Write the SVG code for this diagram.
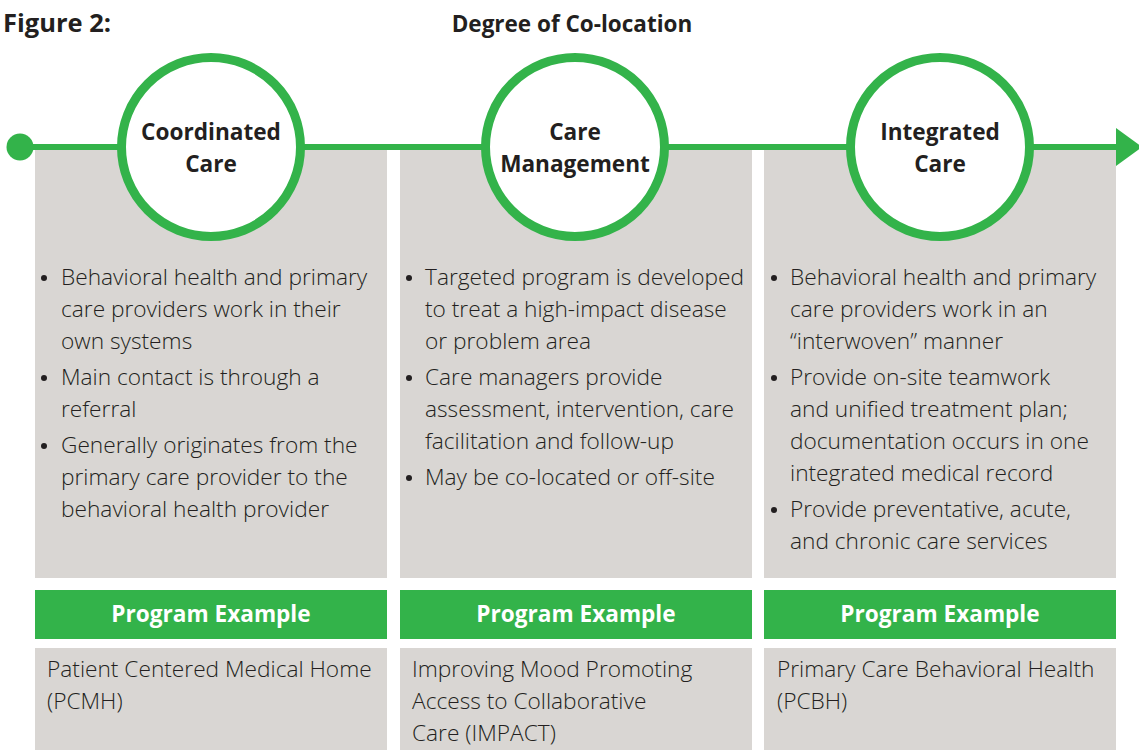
<svg xmlns="http://www.w3.org/2000/svg" width="1139" height="750" viewBox="0 0 1139 750">
<style>
.t{font-family:"Open Sans","Liberation Sans",sans-serif;fill:#231f20}
.h{font-weight:700}
.b{font-weight:300;font-size:22.7px}
.panel{fill:#d9d6d3}
.hdr{fill:#33b34a}
.ring{fill:#fff;stroke:#33b34a;stroke-width:9}
.ct{font-weight:700;font-size:22.6px;text-anchor:middle}
.pe{font-family:"Open Sans","Liberation Sans",sans-serif;font-weight:700;font-size:22.6px;fill:#fff;text-anchor:middle}
</style>
<rect width="1139" height="750" fill="#fff"/>
<text class="t h" x="3" y="32" font-size="25.5">Figure 2:</text>
<text class="t h" x="572" y="32" font-size="22.5" text-anchor="middle">Degree of Co-location</text>

<g id="panels">
<rect class="panel" x="35" y="150" width="352" height="428"/>
<rect class="panel" x="400" y="150" width="352" height="428"/>
<rect class="panel" x="764" y="150" width="352" height="428"/>
<rect class="hdr" x="35" y="590" width="352" height="49"/>
<rect class="hdr" x="400" y="590" width="352" height="49"/>
<rect class="hdr" x="764" y="590" width="352" height="49"/>
<rect class="panel" x="35" y="648" width="352" height="102"/>
<rect class="panel" x="400" y="648" width="352" height="102"/>
<rect class="panel" x="764" y="648" width="352" height="102"/>
</g>

<g id="connectors">
<line x1="20" y1="147" x2="1120" y2="147" stroke="#33b34a" stroke-width="6"/>
<circle cx="20" cy="147" r="13.5" fill="#33b34a"/>
<polygon points="1116,128 1142,147 1116,166" fill="#33b34a"/>
</g>

<g id="coordinated-care">
<circle class="ring" cx="211" cy="147" r="89.5"/>
<text class="t ct" x="211" y="140">Coordinated</text>
<text class="t ct" x="211" y="172">Care</text>
<g class="t b">
<text x="61" y="285">Behavioral health and primary</text>
<text x="61" y="317">care providers work in their</text>
<text x="61" y="349">own systems</text>
<text x="61" y="385">Main contact is through a</text>
<text x="61" y="417">referral</text>
<text x="61" y="453">Generally originates from the</text>
<text x="61" y="485">primary care provider to the</text>
<text x="61" y="517">behavioral health provider</text>
</g>
<g fill="#231f20"><circle cx="44" cy="278" r="3"/><circle cx="44" cy="378" r="3"/><circle cx="44" cy="446" r="3"/></g>
<text class="pe" x="211" y="622">Program Example</text>
<g class="t b">
<text x="47" y="677">Patient Centered Medical Home</text>
<text x="47" y="709">(PCMH)</text>
</g>
</g>

<g id="care-management">
<circle class="ring" cx="575" cy="147" r="89.5"/>
<text class="t ct" x="575" y="140">Care</text>
<text class="t ct" x="575" y="172">Management</text>
<g class="t b">
<text x="425" y="285">Targeted program is developed</text>
<text x="425" y="317">to treat a high-impact disease</text>
<text x="425" y="349">or problem area</text>
<text x="425" y="385">Care managers provide</text>
<text x="425" y="417">assessment, intervention, care</text>
<text x="425" y="449">facilitation and follow-up</text>
<text x="425" y="485">May be co-located or off-site</text>
</g>
<g fill="#231f20"><circle cx="409" cy="278" r="3"/><circle cx="409" cy="378" r="3"/><circle cx="409" cy="478" r="3"/></g>
<text class="pe" x="576" y="622">Program Example</text>
<g class="t b">
<text x="412" y="677">Improving Mood Promoting</text>
<text x="412" y="709">Access to Collaborative</text>
<text x="412" y="741">Care (IMPACT)</text>
</g>
</g>

<g id="integrated-care">
<circle class="ring" cx="940" cy="147" r="89.5"/>
<text class="t ct" x="940" y="140">Integrated</text>
<text class="t ct" x="940" y="172">Care</text>
<g class="t b">
<text x="790" y="285">Behavioral health and primary</text>
<text x="790" y="317">care providers work in an</text>
<text x="790" y="349">“interwoven” manner</text>
<text x="790" y="385">Provide on-site teamwork</text>
<text x="790" y="417">and unified treatment plan;</text>
<text x="790" y="449">documentation occurs in one</text>
<text x="790" y="481">integrated medical record</text>
<text x="790" y="517">Provide preventative, acute,</text>
<text x="790" y="549">and chronic care services</text>
</g>
<g fill="#231f20"><circle cx="774" cy="278" r="3"/><circle cx="774" cy="378" r="3"/><circle cx="774" cy="510" r="3"/></g>
<text class="pe" x="940" y="622">Program Example</text>
<g class="t b">
<text x="777" y="677">Primary Care Behavioral Health</text>
<text x="777" y="709">(PCBH)</text>
</g>
</g>
</svg>
